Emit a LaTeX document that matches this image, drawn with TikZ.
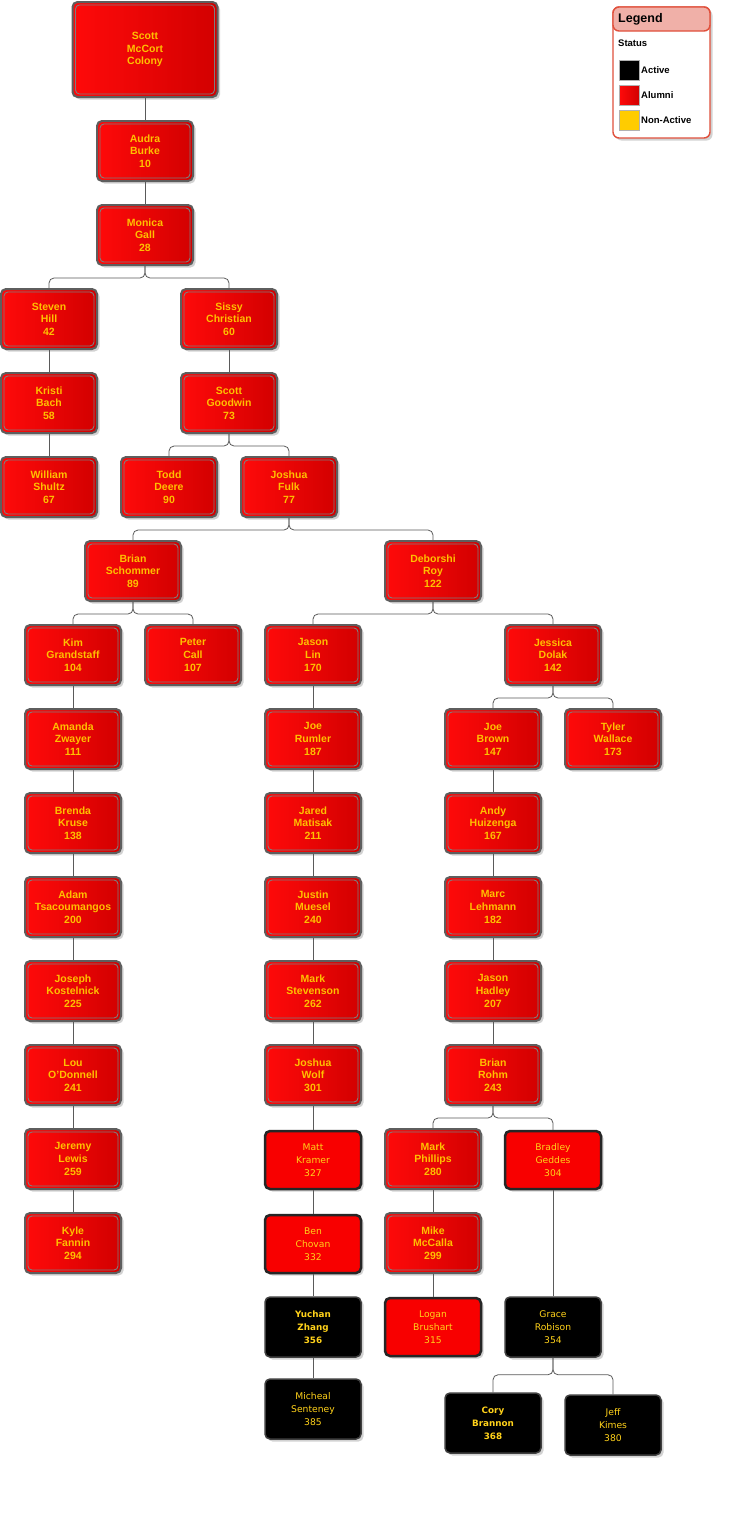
\documentclass[tikz,border=0pt]{standalone}
\usepackage{fontspec}
\setmainfont{Liberation Sans}
\newfontfamily\tahfont{DejaVu Sans}
\usetikzlibrary{shadows,positioning}
\definecolor{txtyel}{HTML}{FFC000}
\definecolor{txtyel2}{HTML}{FFD21A}
\definecolor{redA}{HTML}{FF0A0A}
\definecolor{redB}{HTML}{D20000}
\definecolor{redC}{HTML}{F80000}
\definecolor{bordG}{HTML}{5E5E5E}
\definecolor{connG}{HTML}{5A5A5A}
\definecolor{legR}{HTML}{E0503C}
\definecolor{legH}{HTML}{F0B0A8}
\definecolor{yelsq}{HTML}{FFCC00}
\tikzset{
  shad/.style={drop shadow={shadow xshift=2.5pt,shadow yshift=-2.5pt,opacity=0.35,fill=gray}},
  rbox/.style={shad,rounded corners=5pt,minimum width=96pt,minimum height=60pt,inner sep=0pt,
    left color=redA,right color=redB,draw=bordG,line width=2pt,align=center,
    font=\bfseries\fontsize{10.5}{12.6}\selectfont,text=txtyel,
    path picture={\draw[bordG!80,line width=0.9pt,rounded corners=4pt]
      ([shift={(3pt,-3pt)}]path picture bounding box.north west) rectangle
      ([shift={(-3pt,3pt)}]path picture bounding box.south east);}},
  kbox/.style={shad,rounded corners=5pt,minimum width=96pt,minimum height=58pt,inner sep=0pt,
    fill=redC,draw=black!85,line width=2.5pt,align=center,
    font=\tahfont\fontsize{9.2}{13}\selectfont,text=txtyel2},
  bbox/.style={shad,rounded corners=5pt,minimum width=96pt,minimum height=60pt,inner sep=0pt,
    fill=black,draw=black!75,line width=1.5pt,align=center,
    font=\tahfont\fontsize{9.2}{13}\selectfont,text=txtyel2},
  bld/.style={font=\tahfont\bfseries\fontsize{8.8}{13}\selectfont},
  conn/.style={draw=connG,line width=0.8pt,rounded corners=5pt},
  legtxt/.style={font=\bfseries\fontsize{10}{12}\selectfont,anchor=west,inner sep=0pt},
  sq/.style={minimum width=20pt,minimum height=20pt,inner sep=0pt,draw=gray!60,line width=0.5pt}
}
\newcommand{\twokids}[4]{\draw[conn] (#1.south) -- ++(0,#4) -| (#2.north);
  \draw[conn] (#1.south) -- ++(0,#4) -| (#3.north);}
\newcommand{\onekid}[2]{\draw[conn] (#1.south) -- (#2.north);}
\begin{document}
\begin{tikzpicture}[x=1pt,y=-1pt]
\useasboundingbox (0,0) rectangle (729,1531);
\fill[white] (0,0) rectangle (729,1531);

% legend
\draw[legR,line width=1.4pt,fill=white,rounded corners=6pt,shad] (613,7) rectangle (710,138);
\draw[legR,line width=1.4pt,fill=legH,rounded corners=6pt] (613,7) rectangle (710,31);
\node[font=\bfseries\fontsize{12.5}{14}\selectfont,anchor=west,inner sep=0pt] (legtitle) at (618,19) {Legend};
\node[legtxt,font=\bfseries\fontsize{9.5}{11}\selectfont] (status) at (618,43) {Status};
\node[sq,fill=black] (sqa) at (629,70) {};
\node[sq,left color=redA,right color=redB] (sqb) at (629,95) {};
\node[sq,fill=yelsq] (sqc) at (629,120) {};
\node[legtxt,font=\bfseries\fontsize{9.5}{11}\selectfont] (la) at (641,70) {Active};
\node[legtxt,font=\bfseries\fontsize{9.5}{11}\selectfont] (lb) at (641,95) {Alumni};
\node[legtxt,font=\bfseries\fontsize{9.5}{11}\selectfont] (lc) at (641,120) {Non-Active};

% nodes
\node[rbox,minimum width=145pt,minimum height=95pt] (scott) at (145,49.5) {Scott\\McCort\\Colony};
\node[rbox] (audra) at (145,151) {Audra\\Burke\\10};
\node[rbox] (monica) at (145,235) {Monica\\Gall\\28};
\node[rbox] (steven) at (49,319) {Steven\\Hill\\42};
\node[rbox] (sissy) at (229,319) {Sissy\\Christian\\60};
\node[rbox] (kristi) at (49,403) {Kristi\\Bach\\58};
\node[rbox] (scottg) at (229,403) {Scott\\Goodwin\\73};
\node[rbox] (william) at (49,487) {William\\Shultz\\67};
\node[rbox] (todd) at (169,487) {Todd\\Deere\\90};
\node[rbox] (joshua) at (289,487) {Joshua\\Fulk\\77};
\node[rbox] (brian) at (133,571) {Brian\\Schommer\\89};
\node[rbox] (deborshi) at (433,571) {Deborshi\\Roy\\122};
\node[rbox] (kim) at (73,655) {Kim\\Grandstaff\\104};
\node[rbox] (peter) at (193,655) {Peter\\Call\\107};
\node[rbox] (jason) at (313,655) {Jason\\Lin\\170};
\node[rbox] (jessica) at (553,655) {Jessica\\Dolak\\142};
\node[rbox] (amanda) at (73,739) {Amanda\\Zwayer\\111};
\node[rbox] (joerum) at (313,739) {Joe\\Rumler\\187};
\node[rbox] (joebrown) at (493,739) {Joe\\Brown\\147};
\node[rbox] (tyler) at (613,739) {Tyler\\Wallace\\173};
\node[rbox] (brenda) at (73,823) {Brenda\\Kruse\\138};
\node[rbox] (jared) at (313,823) {Jared\\Matisak\\211};
\node[rbox] (andy) at (493,823) {Andy\\Huizenga\\167};
\node[rbox] (adam) at (73,907) {Adam\\Tsacoumangos\\200};
\node[rbox] (justin) at (313,907) {Justin\\Muesel\\240};
\node[rbox] (marc) at (493,907) {Marc\\Lehmann\\182};
\node[rbox] (joseph) at (73,991) {Joseph\\Kostelnick\\225};
\node[rbox] (mark) at (313,991) {Mark\\Stevenson\\262};
\node[rbox] (jasonh) at (493,991) {Jason\\Hadley\\207};
\node[rbox] (lou) at (73,1075) {Lou\\O'Donnell\\241};
\node[rbox] (joshw) at (313,1075) {Joshua\\Wolf\\301};
\node[rbox] (rohm) at (493,1075) {Brian\\Rohm\\243};
\node[rbox] (jeremy) at (73,1159) {Jeremy\\Lewis\\259};
\node[rbox] (markp) at (433,1159) {Mark\\Phillips\\280};
\node[rbox] (kyle) at (73,1243) {Kyle\\Fannin\\294};
\node[rbox] (mike) at (433,1243) {Mike\\McCalla\\299};

\node[kbox] (matt) at (313,1160) {Matt\\Kramer\\327};
\node[kbox] (ben) at (313,1244) {Ben\\Chovan\\332};
\node[kbox] (bradley) at (553,1160) {Bradley\\Geddes\\304};
\node[kbox] (logan) at (433,1327) {Logan\\Brushart\\315};

\node[bbox,bld] (yuchan) at (313,1327) {Yuchan\\Zhang\\356};
\node[bbox] (micheal) at (313,1409) {Micheal\\Senteney\\385};
\node[bbox] (grace) at (553,1327) {Grace\\Robison\\354};
\node[bbox,bld] (cory) at (493,1423) {Cory\\Brannon\\368};
\node[bbox] (jeff) at (613,1425) {Jeff\\Kimes\\380};

% connectors
\onekid{scott}{audra}
\onekid{audra}{monica}
\twokids{monica}{steven}{sissy}{12}
\onekid{steven}{kristi}
\onekid{kristi}{william}
\onekid{sissy}{scottg}
\twokids{scottg}{todd}{joshua}{12}
\twokids{joshua}{brian}{deborshi}{12}
\twokids{brian}{kim}{peter}{12}
\twokids{deborshi}{jason}{jessica}{12}
\onekid{kim}{amanda}
\onekid{amanda}{brenda}
\onekid{brenda}{adam}
\onekid{adam}{joseph}
\onekid{joseph}{lou}
\onekid{lou}{jeremy}
\onekid{jeremy}{kyle}
\onekid{jason}{joerum}
\onekid{joerum}{jared}
\onekid{jared}{justin}
\onekid{justin}{mark}
\onekid{mark}{joshw}
\onekid{joshw}{matt}
\onekid{matt}{ben}
\onekid{ben}{yuchan}
\onekid{yuchan}{micheal}
\twokids{jessica}{joebrown}{tyler}{12}
\onekid{joebrown}{andy}
\onekid{andy}{marc}
\onekid{marc}{jasonh}
\onekid{jasonh}{rohm}
\twokids{rohm}{markp}{bradley}{12}
\onekid{markp}{mike}
\onekid{mike}{logan}
\onekid{bradley}{grace}
\twokids{grace}{cory}{jeff}{17}
\end{tikzpicture}
\end{document}
